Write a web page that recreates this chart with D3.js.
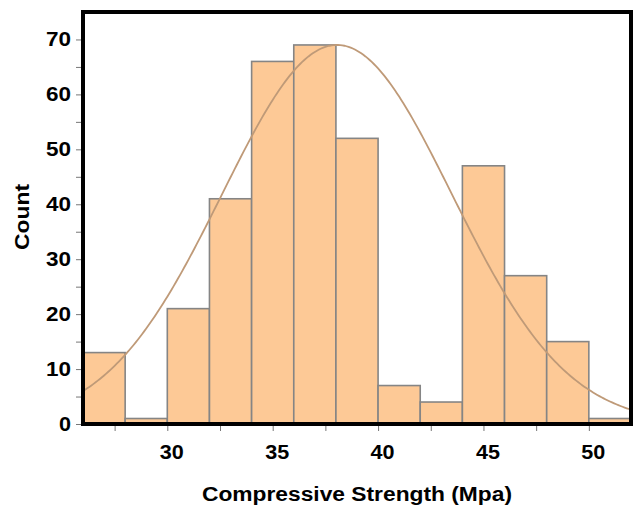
<!DOCTYPE html>
<html>
<head>
<meta charset="utf-8">
<script src="https://cdn.jsdelivr.net/npm/d3@7"></script>
<style>
  body { margin: 0; background: #fff; }
  svg text { font-family: "Liberation Sans", Arial, sans-serif; font-weight: bold; fill: #000; }
</style>
</head>
<body>
<svg width="633" height="510"></svg>
<script>
// histogram bins (lower edge, width 2) and counts
const binStarts = [26, 28, 30, 32, 34, 36, 38, 40, 42, 44, 46, 48, 50];
const binWidth = 2;
const counts = [13, 1, 21, 41, 66, 69, 52, 7, 4, 47, 27, 15, 1];
const xTicks = [30, 35, 40, 45, 50];
const yTicks = [0, 10, 20, 30, 40, 50, 60, 70];
// fitted normal curve parameters
const fitMean = 38.05;
const fitSd = 5.45;
const fitPeak = 69;

var svg = d3.select("svg");
var plotL = 83, plotR = 631, plotT = 12, plotB = 424;

var x = d3.scaleLinear().domain([26, 52]).range([plotL, plotR]);
var y = d3.scaleLinear().domain([0, 75]).range([plotB, plotT]);

var data = binStarts.map(function (b, i) { return { x0: b, x1: b + binWidth, n: counts[i] }; });

// bars
svg.append("g").selectAll("rect")
    .data(data)
    .enter().append("rect")
    .attr("x", function (d) { return x(d.x0); })
    .attr("y", function (d) { return y(d.n); })
    .attr("width", function (d) { return x(d.x1) - x(d.x0); })
    .attr("height", function (d) { return y(0) - y(d.n); })
    .attr("fill", "#fdc996")
    .attr("stroke", "#858585")
    .attr("stroke-width", 1.6);

// normal fit line
var pts = d3.range(26, 52.01, 0.1);
var line = d3.line()
    .x(function (d) { return x(d); })
    .y(function (d) { return y(fitPeak * Math.exp(-Math.pow(d - fitMean, 2) / (2 * fitSd * fitSd))); });
svg.append("path")
    .datum(pts)
    .attr("d", line)
    .attr("fill", "none")
    .attr("stroke", "#bf9a78")
    .attr("stroke-width", 1.8);

// axes
var yAxis = svg.append("g")
    .attr("transform", "translate(" + (plotL - 2) + ",0)")
    .call(d3.axisLeft(y).tickValues(d3.range(0, 75, 5)).tickSize(5).tickPadding(5)
        .tickFormat(function (d) { return yTicks.indexOf(d) >= 0 ? d : ""; }));
yAxis.select(".domain").remove();
yAxis.selectAll("line").attr("stroke", "#777");
yAxis.selectAll("text").style("font-size", "20px")
    .attr("textLength", function (d) { return d === 0 ? 12 : 25; })
    .attr("lengthAdjust", "spacingAndGlyphs");

var xAxis = svg.append("g")
    .attr("transform", "translate(0," + (plotB + 2) + ")")
    .call(d3.axisBottom(x).tickValues(d3.range(27.5, 52, 2.5)).tickSize(5).tickPadding(14)
        .tickFormat(function (d) { return xTicks.indexOf(d) >= 0 ? d : ""; }));
xAxis.select(".domain").remove();
xAxis.selectAll("line").attr("stroke", "#777");
xAxis.selectAll("text").style("font-size", "20px").attr("dx", "4")
    .attr("textLength", 24).attr("lengthAdjust", "spacingAndGlyphs");

// frame
svg.append("rect")
    .attr("x", plotL).attr("y", plotT)
    .attr("width", plotR - plotL).attr("height", plotB - plotT)
    .attr("fill", "none").attr("stroke", "#000").attr("stroke-width", 4);

// titles
svg.append("text")
    .attr("x", 357)
    .attr("y", 501)
    .attr("text-anchor", "middle")
    .style("font-size", "20px")
    .attr("textLength", 310)
    .attr("lengthAdjust", "spacingAndGlyphs")
    .text("Compressive Strength (Mpa)");

svg.append("text")
    .attr("transform", "translate(29,217) rotate(-90)")
    .attr("text-anchor", "middle")
    .style("font-size", "20px")
    .attr("textLength", 66)
    .attr("lengthAdjust", "spacingAndGlyphs")
    .text("Count");
</script>
</body>
</html>
